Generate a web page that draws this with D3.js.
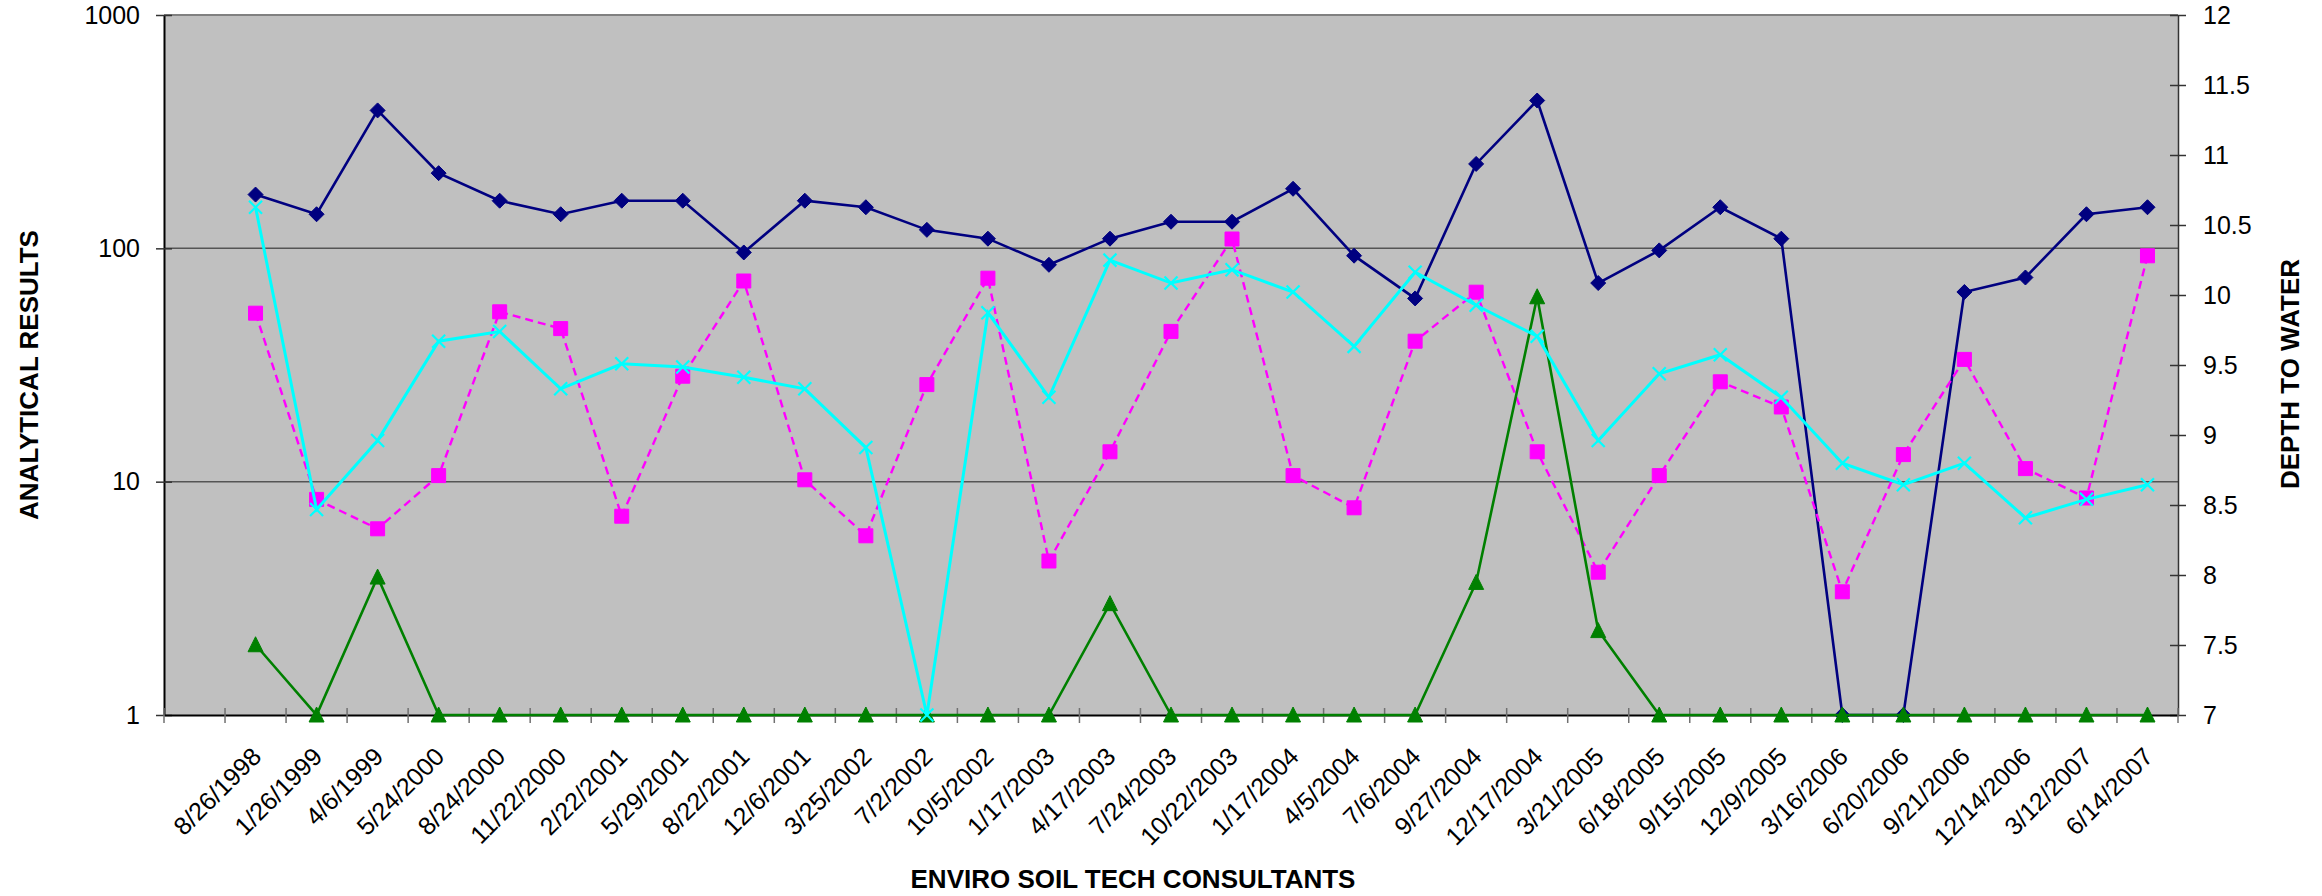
<!DOCTYPE html>
<html>
<head>
<meta charset="utf-8">
<script src="https://cdn.jsdelivr.net/npm/d3@7"></script>
<style>
  body { margin: 0; background: #fff; }
  text { font-family: Arial, "Liberation Sans", sans-serif; }
</style>
</head>
<body>
<div class="chart"></div>
<script>

///////////////////////////////////////////////////
//  Data
///////////////////////////////////////////////////

const dates = ["8/26/1998", "1/26/1999", "4/6/1999", "5/24/2000", "8/24/2000", "11/22/2000",
  "2/22/2001", "5/29/2001", "8/22/2001", "12/6/2001", "3/25/2002", "7/2/2002", "10/5/2002",
  "1/17/2003", "4/17/2003", "7/24/2003", "10/22/2003", "1/17/2004", "4/5/2004", "7/6/2004",
  "9/27/2004", "12/17/2004", "3/21/2005", "6/18/2005", "9/15/2005", "12/9/2005", "3/16/2006",
  "6/20/2006", "9/21/2006", "12/14/2006", "3/12/2007", "6/14/2007"];

// analytical results (left, log axis)
const navyValues = [170, 140, 390, 210, 160, 140, 160, 160, 96, 160, 150, 120, 110, 85, 110, 130,
  130, 180, 93, 61, 230, 430, 71, 98, 150, 110, 1, 1, 65, 75, 140, 150];
const cyanValues = [150, 7.6, 15, 40, 44, 25, 32, 31, 28, 25, 14, 1, 53, 23, 89, 71,
  81, 65, 38, 79, 57, 42, 15, 29, 35, 23, 12, 9.7, 12, 7, 8.4, 9.7];
const greenValues = [2, 1, 3.9, 1, 1, 1, 1, 1, 1, 1, 1, 1, 1, 1, 3, 1,
  1, 1, 1, 1, 3.7, 62, 2.3, 1, 1, 1, 1, 1, 1, 1, 1, 1];

// depth to water (right axis)
const depthValues = [9.87, 8.54, 8.33, 8.71, 9.88, 9.76, 8.42, 9.42, 10.1, 8.68, 8.28, 9.36, 10.12,
  8.1, 8.88, 9.74, 10.4, 8.71, 8.48, 9.67, 10.02, 8.88, 8.02, 8.71, 9.38, 9.2, 7.88, 8.86,
  9.54, 8.76, 8.55, 10.28];

const leftTicks = [1, 10, 100, 1000];
const rightTicks = [7, 7.5, 8, 8.5, 9, 9.5, 10, 10.5, 11, 11.5, 12];

///////////////////////////////////////////////////
//  Layout
///////////////////////////////////////////////////

const W = 2322, H = 896;
const plot = { left: 164, right: 2178, top: 15, bottom: 715 };

const svg = d3.select('.chart')
  .append('svg')
    .attr('width', W)
    .attr('height', H);

// first category of the sheet is blank
const x = d3.scaleBand()
  .domain(["_blank"].concat(dates))
  .range([plot.left, plot.right])
  .padding(0);

const yL = d3.scaleLog().domain([1, 1000]).range([plot.bottom, plot.top]);
const yR = d3.scaleLinear().domain([7, 12]).range([plot.bottom, plot.top]);

const cx = d => x(d) + x.bandwidth() / 2;

// background
svg.append('rect')
  .attr('x', plot.left)
  .attr('y', plot.top)
  .attr('width', plot.right - plot.left)
  .attr('height', plot.bottom - plot.top)
  .style('fill', '#c0c0c0');

// gridlines
svg.append('g')
  .selectAll('line')
  .data(leftTicks.slice(1, 3))
  .enter()
  .append('line')
    .attr('x1', plot.left)
    .attr('x2', plot.right)
    .attr('y1', d => yL(d))
    .attr('y2', d => yL(d))
    .style('stroke', '#555')
    .style('stroke-width', 1.5);

// top border
svg.append('line')
  .attr('x1', plot.left).attr('x2', plot.right)
  .attr('y1', plot.top).attr('y2', plot.top)
  .style('stroke', '#808080')
  .style('stroke-width', 2);

// axes
const axisLeft = svg.append('g')
  .attr('transform', `translate(${plot.left},0)`)
  .call(d3.axisLeft(yL)
    .tickValues(leftTicks)
    .tickFormat(d3.format('d'))
    .tickSizeInner(8)
    .tickSizeOuter(0)
    .tickPadding(16));

const axisRight = svg.append('g')
  .attr('transform', `translate(${plot.right},0)`)
  .call(d3.axisRight(yR)
    .tickValues(rightTicks)
    .tickFormat(d => String(d))
    .tickSizeInner(8)
    .tickSizeOuter(0)
    .tickPadding(17));

const axisBottom = svg.append('g')
  .attr('transform', `translate(0,${plot.bottom})`)
  .call(d3.axisBottom(x)
    .tickValues([])
    .tickSizeOuter(0));

// category boundary ticks
svg.append('g')
  .selectAll('line')
  .data(x.domain().concat(['_end']))
  .enter()
  .append('line')
    .attr('x1', (d, i) => plot.left + i * x.bandwidth())
    .attr('x2', (d, i) => plot.left + i * x.bandwidth())
    .attr('y1', plot.bottom - 7)
    .attr('y2', plot.bottom + 8)
    .style('stroke', '#707070')
    .style('stroke-width', 1.5);

// cross ticks on value axes
axisLeft.selectAll('.tick line').attr('x1', 8).attr('x2', -8);
axisRight.selectAll('.tick line').attr('x1', -8).attr('x2', 8);
axisLeft.select('.domain').style('stroke', '#000').style('stroke-width', 2);
axisRight.select('.domain').style('stroke', '#333').style('stroke-width', 1.5);
axisBottom.select('.domain').style('stroke', '#000').style('stroke-width', 2);
svg.selectAll('.tick line').style('stroke', '#333').style('stroke-width', 1.5);
svg.selectAll('.tick text')
  .style('font-size', '25px')
  .style('font-family', 'Arial, "Liberation Sans", sans-serif')
  .style('fill', '#000');

// date labels
svg.append('g')
  .selectAll('text')
  .data(dates)
  .enter()
  .append('text')
    .attr('transform', d => `translate(${cx(d) + 1},752) rotate(-45)`)
    .attr('dy', '0.35em')
    .attr('text-anchor', 'end')
    .style('font-size', '25px')
    .text(d => d);

// titles
svg.append('text')
  .attr('transform', 'translate(29,375) rotate(-90)')
  .attr('dy', '0.35em')
  .attr('text-anchor', 'middle')
  .style('font-size', '26px')
  .style('font-weight', 'bold')
  .text('ANALYTICAL RESULTS');

svg.append('text')
  .attr('transform', 'translate(2290,374) rotate(-90)')
  .attr('dy', '0.35em')
  .attr('text-anchor', 'middle')
  .style('font-size', '26px')
  .style('font-weight', 'bold')
  .text('DEPTH TO WATER');

svg.append('text')
  .attr('x', 1133)
  .attr('y', 888)
  .attr('text-anchor', 'middle')
  .style('font-size', '26px')
  .style('font-weight', 'bold')
  .text('ENVIRO SOIL TECH CONSULTANTS');

///////////////////////////////////////////////////
//  Series
///////////////////////////////////////////////////

const series = [
  { values: navyValues, y: yL, color: '#000080', width: 2.6, dash: null,
    marker: 'M0,-7.5L7.5,0L0,7.5L-7.5,0Z', fill: true },
  { values: depthValues, y: yR, color: '#ff00ff', width: 2.4, dash: '8,5',
    marker: 'M-7,-7L7,-7L7,7L-7,7Z', fill: true },
  { values: greenValues, y: yL, color: '#008000', width: 2.6, dash: null,
    marker: 'M0,-8L7.5,7L-7.5,7Z', fill: true },
  { values: cyanValues, y: yL, color: '#00ffff', width: 3, dash: null,
    marker: 'M-6.5,-6.5L6.5,6.5M6.5,-6.5L-6.5,6.5', fill: false }
];

series.forEach(s => {
  const pts = dates.map((d, i) => ({ x: cx(d), y: s.y(s.values[i]) }));

  svg.append('path')
    .datum(pts)
    .attr('d', d3.line().x(d => d.x).y(d => d.y))
    .style('fill', 'none')
    .style('stroke', s.color)
    .style('stroke-width', s.width)
    .style('stroke-dasharray', s.dash);

  svg.append('g')
    .selectAll('path')
    .data(pts)
    .enter()
    .append('path')
      .attr('transform', d => `translate(${d.x},${d.y})`)
      .attr('d', s.marker)
      .style('fill', s.fill ? s.color : 'none')
      .style('stroke', s.color)
      .style('stroke-width', s.fill ? 1 : 2.2);
});
</script>
</body>
</html>
